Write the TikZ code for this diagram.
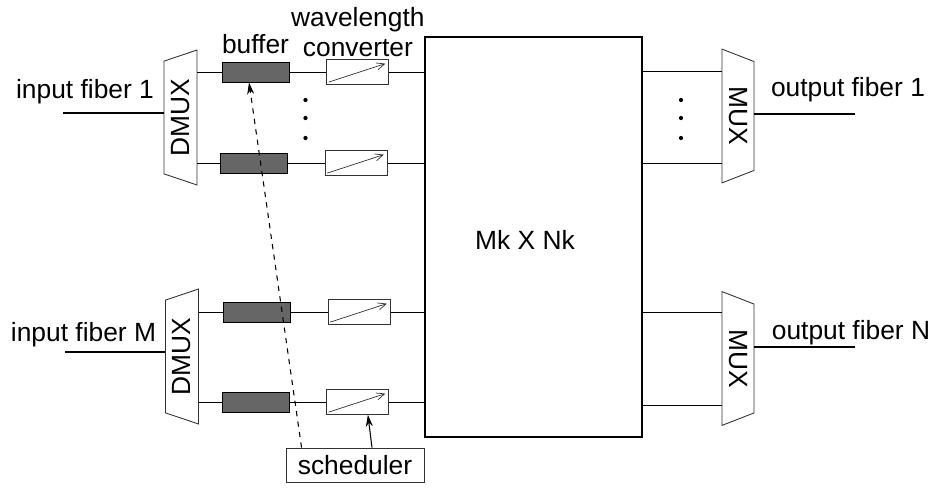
\documentclass[tikz,border=0pt]{standalone}
\usepackage{fontspec}
\setmainfont{Liberation Sans}
\usetikzlibrary{shapes.geometric, arrows.meta, positioning}
\tikzset{
  muxbase/.style={trapezium, draw=black!80, trapezium stretches=true,
    inner sep=1pt, line width=0.5pt},
  demux/.style={muxbase, trapezium angle=70,
    minimum width=2.7cm, minimum height=0.66cm, rotate=90},
  mux/.style={muxbase, trapezium angle=72,
    minimum width=2.68cm, minimum height=0.64cm, rotate=-90},
  bufr/.style={rectangle, draw, fill=black!60, line width=0.5pt,
    minimum width=1.34cm, minimum height=0.4cm, inner sep=0pt},
  wconv/.style={rectangle, draw=black!80, fill=white, line width=0.5pt,
    minimum width=1.24cm, minimum height=0.49cm, inner sep=0pt,
    path picture={\draw[-{Straight Barb[length=4.5pt,width=4pt]}, line width=0.4pt]
      ([shift={(1pt,1.2pt)}]path picture bounding box.south west) --
      ([shift={(-2pt,-2.2pt)}]path picture bounding box.north east);}},
  swbox/.style={rectangle, draw, line width=1.1pt,
    minimum width=4.34cm, minimum height=8cm},
  schbox/.style={rectangle, draw=black!80, line width=0.5pt,
    minimum width=2.76cm, minimum height=0.68cm},
  dotpt/.style={circle, fill, inner sep=0pt, minimum size=2.4pt},
  fiber/.style={line width=0.9pt},
  wire/.style={line width=0.5pt},
  ctrl/.style={-{Stealth[length=2.4mm,width=1.4mm]}, line width=0.6pt},
}

\begin{document}
\begin{tikzpicture}[x=0.2mm, y=-0.2mm, node distance=0.74cm,
  every node/.style={font=\fontsize{15}{17.5}\selectfont}]
  \useasboundingbox (0,0) rectangle (935,487);

  \node[swbox] (sw) at (533.5,237) {};
  \node (swlbl) at (525,240) {Mk X Nk};

  \node[demux] (dmux1) at (180.5,117.5) {DMUX};
  \node[demux] (dmux2) at (182,356.5) {DMUX};
  \node[mux]   (mux1)  at (738,116) {MUX};
  \node[mux]   (mux2)  at (738,358.5) {MUX};

  \node[bufr] (b11) at (255.5,72) {};
  \node[bufr] (b12) at (254,163) {};
  \node[bufr] (b21) at (257,312) {};
  \node[bufr] (b22) at (255.5,402) {};

  \node[wconv, right=of b11] (c11) {};
  \node[wconv, right=of b12] (c12) {};
  \node[wconv, right=of b21] (c21) {};
  \node[wconv, right=of b22] (c22) {};

  \node[above=1pt of b11] (lbuf) {buffer};
  \node[above=0pt of c11, align=center, inner sep=1pt] (lconv)
       {wavelength\\converter};

  \node[schbox] (sched) at (355,465) {scheduler};

  \foreach \y [count=\i] in {100,118,138} {
    \node[dotpt] (dl\i) at (305.5,\y) {};
    \node[dotpt] (dr\i) at (681,\y) {};
  }

  \coordinate (in1) at (63,113);
  \coordinate (in2) at (65,352);
  \coordinate (out1) at (855,114);
  \coordinate (out2) at (855,347);
  \node (lin1) at (85,92) {input fiber 1};
  \node (lin2) at (83.5,335) {input fiber M};
  \node (lout1) at (848,90) {output fiber 1};
  \node (lout2) at (851,333) {output fiber N};

  \draw[fiber] (in1) -- (in1 -| dmux1.north);
  \draw[fiber] (in2) -- (in2 -| dmux2.north);
  \draw[fiber] (out1 -| mux1.north) -- (out1);
  \draw[fiber] (out2 -| mux2.north) -- (out2);

  \draw[wire] (b11 -| dmux1.south) -- (b11) (b11) -- (c11) (c11) -- (c11 -| sw.west);
  \draw[wire] (b12 -| dmux1.south) -- (b12) (b12) -- (c12) (c12) -- (c12 -| sw.west);
  \draw[wire] (b21 -| dmux2.south) -- (b21) (b21) -- (c21) (c21) -- (c21 -| sw.west);
  \draw[wire] (b22 -| dmux2.south) -- (b22) (b22) -- (c22) (c22) -- (c22 -| sw.west);

  \draw[wire] (sw.east |- 0,71)  -- (mux1.south |- 0,71);
  \draw[wire] (sw.east |- 0,163) -- (mux1.south |- 0,163);
  \draw[wire] (sw.east |- 0,312) -- (mux2.south |- 0,312);
  \draw[wire] (sw.east |- 0,405) -- (mux2.south |- 0,405);

  \draw[ctrl, dashed] ([xshift=3.2mm]sched.north west) -- ([xshift=-1.3mm]b11.south);
  \draw[ctrl] ([xshift=3.4mm]sched.north) -- ([xshift=2mm]c22.south);
\end{tikzpicture}
\end{document}
